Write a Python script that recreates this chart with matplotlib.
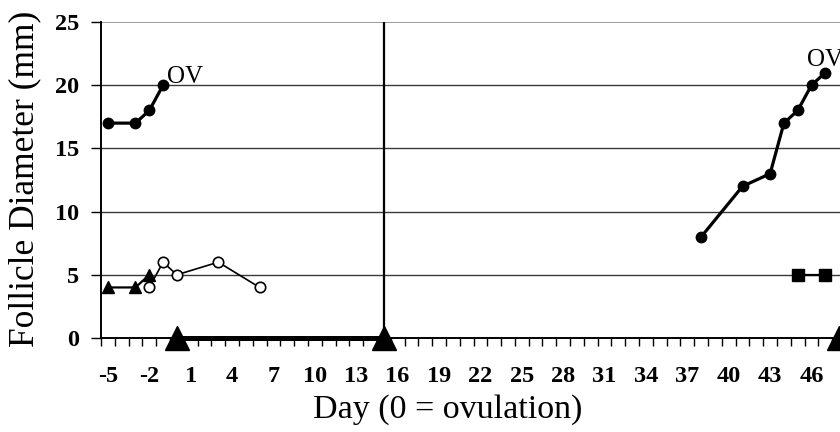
import matplotlib
matplotlib.use('Agg')
import matplotlib.pyplot as plt
import numpy as np

plt.rcParams['font.family'] = ['Liberation Serif', 'DejaVu Serif']

# dominant follicle, first wave (closed circles)
days_dom1 = [-5, -3, -2, -1]
diam_dom1 = [17, 17, 18, 20]
# dominant follicle, second wave
days_dom2 = [38, 41, 43, 44, 45, 46, 47]
diam_dom2 = [8, 12, 13, 17, 18, 20, 21]
# subordinate follicle (open circles)
days_sub = [-2, -1, 0, 3, 6]
diam_sub = [4, 6, 5, 6, 4]
# small triangles
days_tri = [-5, -3, -2]
diam_tri = [4, 4, 5]
# squares
days_sq = [45, 47]
diam_sq = [5, 5]
# corpus luteum period (big triangles on the axis)
cl_days = [0, 15]
cl_next = [48]
line_day = 15

first_day, last_day = -5, 48
label_days = list(range(-5, 47, 3))
yticks = [0, 5, 10, 15, 20, 25]

fig = plt.figure(figsize=(8.4, 4.32), dpi=100)
ax = fig.add_axes([101/840, 94/432, 745/840, 316/432])

for y in yticks[1:]:
    ax.axhline(y, color='#8a8a8a' if y == 25 else '#3a3a3a', lw=1.2 if y == 25 else 1.0, zorder=1)
ax.plot([line_day, line_day], [0, 25], color='black', lw=1.6, zorder=2)

ax.plot(days_dom1, diam_dom1, color='black', lw=2.3, marker='o', ms=7.5, zorder=4)
ax.plot(days_dom2, diam_dom2, color='black', lw=2.3, marker='o', ms=7.5, zorder=4)
ax.plot(days_sub, diam_sub, color='black', lw=1.2, marker='o', ms=7.5,
        mfc='white', mec='black', mew=1.2, zorder=4)
ax.plot(days_tri, diam_tri, color='black', lw=1.6, marker='^', ms=9, zorder=4)
ax.plot(days_sq, diam_sq, color='black', lw=1.6, marker='s', ms=8, zorder=4)
ax.plot(cl_days, [0, 0], color='black', lw=3.6, marker='^', ms=17,
        clip_on=False, zorder=5)
ax.plot(cl_next, [0], color='black', lw=0, marker='^', ms=17, clip_on=False, zorder=5)

ax.text(-0.72, 20.2, 'OV', fontsize=18, ha='left', va='baseline')
ax.text(45.7, 21.5, 'OV', fontsize=18, ha='left', va='baseline')

ax.set_xlim(first_day - 0.5, last_day + 0.5)
ax.set_ylim(0, 25)
ax.set_xticks(label_days)
ax.set_xticklabels([str(d) for d in label_days], fontweight='bold', fontsize=17.5)
ax.set_xticks(np.arange(first_day - 0.5, last_day + 0.5, 1), minor=True)
ax.tick_params(axis='x', which='major', length=0, pad=20.5)
ax.tick_params(axis='x', which='minor', length=6, width=1, direction='out')
ax.set_yticks(yticks)
ax.set_yticklabels([str(v) for v in yticks], fontweight='bold', fontsize=17.5)
ax.tick_params(axis='y', length=7, width=1, pad=8.5)

for s in ['top', 'right']:
    ax.spines[s].set_visible(False)
ax.spines['left'].set_linewidth(1.4)
ax.spines['bottom'].set_linewidth(1.4)

fig.text(448/840, 1 - 410/432, 'Day (0 = ovulation)', fontsize=24.5, ha='center', va='center')
fig.text(25/840, 1 - 179/432, 'Follicle Diameter (mm)', fontsize=25.5,
         ha='center', va='center', rotation=90)

fig.savefig('out.png', dpi=100)
